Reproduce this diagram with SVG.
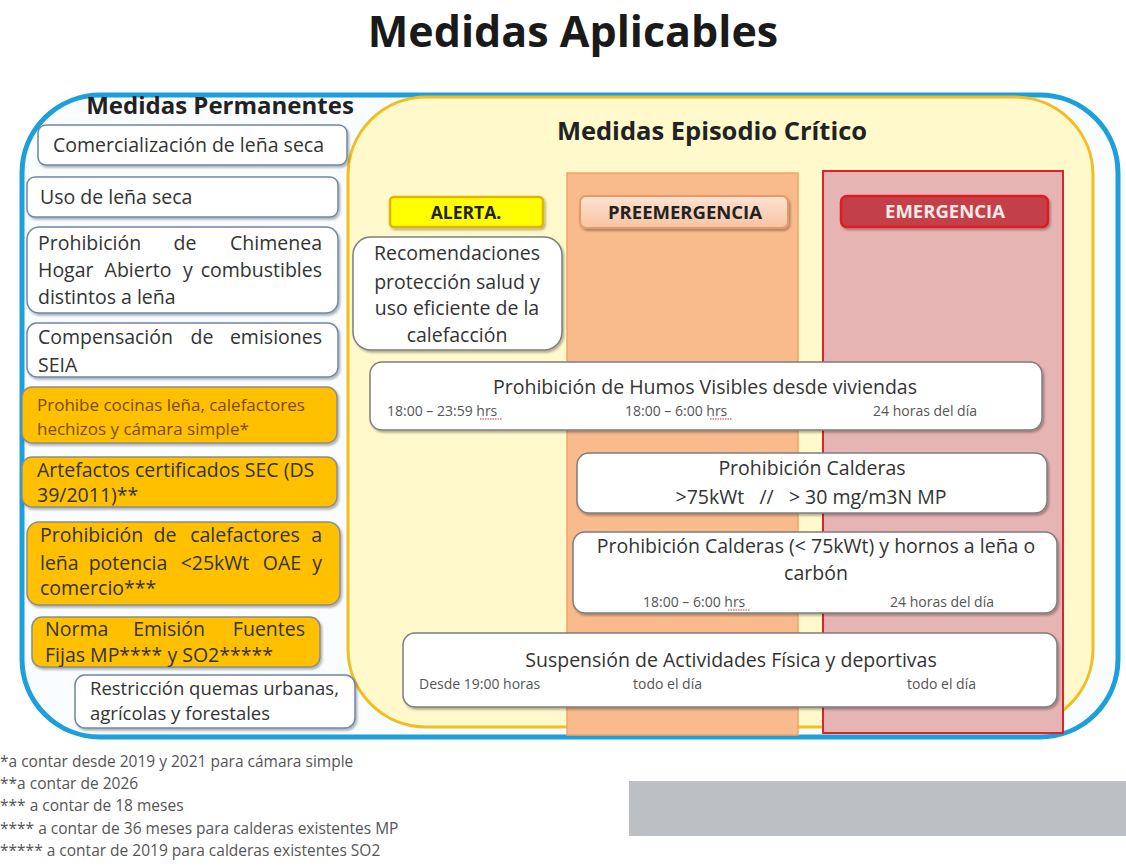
<svg xmlns="http://www.w3.org/2000/svg" width="1126" height="867" viewBox="0 0 1126 867">
<defs>
<style>
text{font-family:"Open Sans","Liberation Sans",sans-serif;fill:#333}
.h{font-weight:bold;fill:#222}
.t{font-size:19.5px}
.s{font-size:14px;fill:#555}
.o{font-size:17px;fill:#7a4a00}
.f{font-size:15.5px;fill:#555}
.wb{fill:#fff;stroke:#6d86ab;stroke-width:1.5}
.wr{fill:#fff;stroke:#7d7d7d;stroke-width:1.5}
.ob{fill:#ffc000;stroke:#8c8c8c;stroke-width:1.5}
.sq{stroke:#e03030;stroke-width:1.2;stroke-dasharray:1.5 1}
</style>
<filter id="sh" x="-5%" y="-10%" width="110%" height="130%">
<feDropShadow dx="1.5" dy="2" stdDeviation="1.2" flood-color="#000" flood-opacity="0.3"/>
</filter>
<linearGradient id="pg" x1="0" y1="0" x2="0" y2="1">
<stop offset="0" stop-color="#fde3d2"/><stop offset="1" stop-color="#f8c3a2"/>
</linearGradient>
</defs>
<rect width="1126" height="867" fill="#fff"/>
<text x="573" y="47" text-anchor="middle" class="h" style="font-size:43px;fill:#1a1a1a">Medidas Aplicables</text>

<g id="permanentes-frame">
<rect x="22" y="95" width="1096" height="642" rx="78" fill="#f9fdff" stroke="#1c9fda" stroke-width="5"/>
<text x="220" y="114" text-anchor="middle" class="h" style="font-size:24px">Medidas Permanentes</text>
</g>

<g id="episodio-frame">
<rect x="348" y="97" width="745" height="630" rx="78" fill="#fff9cc" stroke="#f2be1f" stroke-width="3"/>
<text x="712" y="140" text-anchor="middle" class="h" style="font-size:25.5px">Medidas Episodio Crítico</text>
</g>

<g id="col-preemergencia">
<rect x="567" y="173" width="231" height="562" fill="#f9bb8c" stroke="#f2a565" stroke-width="1.5"/>
</g>
<g id="col-emergencia">
<rect x="823" y="171" width="240" height="562" fill="#e7b4b4" stroke="#d8242a" stroke-width="2"/>
</g>

<g id="lbl-alerta">
<rect x="390" y="197" width="153" height="30" rx="4" fill="#ffff00" stroke="#e2b400" stroke-width="2.5" filter="url(#sh)"/>
<text x="466" y="219" text-anchor="middle" class="h" style="font-size:17.5px">ALERTA.</text>
</g>
<g id="lbl-preemergencia">
<rect x="580" y="196" width="208" height="32" rx="6" fill="url(#pg)" stroke="#e79a68" stroke-width="2" filter="url(#sh)"/>
<text x="685" y="219" text-anchor="middle" class="h" style="font-size:18.5px">PREEMERGENCIA</text>
</g>
<g id="lbl-emergencia">
<rect x="841" y="196" width="207" height="31" rx="6" fill="#c4404a" stroke="#e01a22" stroke-width="2.5" filter="url(#sh)"/>
<text x="945" y="218" text-anchor="middle" class="h" style="font-size:18.5px;fill:#fbe9e9">EMERGENCIA</text>
</g>

<g id="p1">
<rect x="38" y="125" width="309" height="40" rx="8" class="wb" filter="url(#sh)"/>
<text x="53" y="152" class="t">Comercialización de leña seca</text>
</g>
<g id="p2">
<rect x="27" y="177" width="311" height="40" rx="8" class="wb" filter="url(#sh)"/>
<text x="40" y="204" class="t">Uso de leña seca</text>
</g>
<g id="p3">
<rect x="27" y="227" width="311" height="86" rx="12" class="wb" filter="url(#sh)"/>
<text y="250" class="t"><tspan x="38">Prohibición</tspan><tspan x="185" text-anchor="middle">de</tspan><tspan x="322" text-anchor="end">Chimenea</tspan></text>
<text y="277" class="t"><tspan x="38">Hogar</tspan><tspan x="138" text-anchor="middle">Abierto</tspan><tspan x="188" text-anchor="middle">y</tspan><tspan x="322" text-anchor="end">combustibles</tspan></text>
<text x="38" y="304" class="t">distintos a leña</text>
</g>
<g id="p4">
<rect x="27" y="323" width="311" height="54" rx="10" class="wb" filter="url(#sh)"/>
<text y="344" class="t"><tspan x="38">Compensación</tspan><tspan x="202" text-anchor="middle">de</tspan><tspan x="322" text-anchor="end">emisiones</tspan></text>
<text x="38" y="372" class="t">SEIA</text>
</g>
<g id="p5">
<rect x="22" y="387" width="315" height="56" rx="10" class="ob" filter="url(#sh)"/>
<text x="37" y="411" class="o">Prohibe cocinas leña, calefactores</text>
<text x="37" y="435" class="o">hechizos y cámara simple*</text>
</g>
<g id="p6">
<rect x="22" y="457" width="315" height="50" rx="10" class="ob" filter="url(#sh)"/>
<text x="37" y="477" class="t">Artefactos certificados SEC (DS</text>
<text x="37" y="502" class="t">39/2011)**</text>
</g>
<g id="p7">
<rect x="27" y="522" width="313" height="83" rx="12" class="ob" filter="url(#sh)"/>
<text y="542" class="t"><tspan x="40">Prohibición</tspan><tspan x="165" text-anchor="middle">de</tspan><tspan x="245" text-anchor="middle">calefactores</tspan><tspan x="322" text-anchor="end">a</tspan></text>
<text y="570" class="t"><tspan x="40">leña</tspan><tspan x="128" text-anchor="middle">potencia</tspan><tspan x="215" text-anchor="middle">&lt;25kWt</tspan><tspan x="282" text-anchor="middle">OAE</tspan><tspan x="322" text-anchor="end">y</tspan></text>
<text x="40" y="595" class="t">comercio***</text>
</g>
<g id="p8">
<rect x="32" y="617" width="288" height="50" rx="10" class="ob" filter="url(#sh)"/>
<text y="636" class="t"><tspan x="45">Norma</tspan><tspan x="169" text-anchor="middle">Emisión</tspan><tspan x="305" text-anchor="end">Fuentes</tspan></text>
<text x="45" y="662" class="t">Fijas MP**** y SO2*****</text>
</g>
<g id="p9">
<rect x="75" y="675" width="280" height="53" rx="10" class="wb" filter="url(#sh)"/>
<text x="90" y="695" class="t" style="font-size:18.5px">Restricción quemas urbanas,</text>
<text x="90" y="720" class="t" style="font-size:18.5px">agrícolas y forestales</text>
</g>

<g id="e-recomendaciones">
<rect x="353" y="237" width="209" height="113" rx="18" class="wr" filter="url(#sh)"/>
<text x="457" y="260" text-anchor="middle" class="t">Recomendaciones</text>
<text x="457" y="289" text-anchor="middle" class="t">protección salud y</text>
<text x="457" y="315" text-anchor="middle" class="t">uso eficiente de la</text>
<text x="457" y="342" text-anchor="middle" class="t">calefacción</text>
</g>
<g id="e-humos">
<rect x="370" y="362" width="672" height="68" rx="12" class="wr" filter="url(#sh)"/>
<text x="705" y="394" text-anchor="middle" class="t">Prohibición de Humos Visibles desde viviendas</text>
<text x="387" y="416" class="s">18:00 – 23:59 hrs</text>
<text x="625" y="416" class="s">18:00 – 6:00 hrs</text>
<text x="873" y="416" class="s">24 horas del día</text>
<line x1="480" y1="419" x2="502" y2="419" class="sq"/>
<line x1="710" y1="419" x2="732" y2="419" class="sq"/>
</g>
<g id="e-calderas-mayor">
<rect x="577" y="453" width="470" height="60" rx="12" class="wr" filter="url(#sh)"/>
<text x="812" y="475" text-anchor="middle" class="t">Prohibición Calderas</text>
<text x="811" y="504" text-anchor="middle" class="t" xml:space="preserve">&gt;75kWt   //   &gt; 30 mg/m3N MP</text>
</g>
<g id="e-calderas-menor">
<rect x="573" y="532" width="484" height="81" rx="12" class="wr" filter="url(#sh)"/>
<text x="816" y="553" text-anchor="middle" class="t">Prohibición Calderas (&lt; 75kWt) y hornos a leña o</text>
<text x="816" y="580" text-anchor="middle" class="t">carbón</text>
<text x="643" y="607" class="s">18:00 – 6:00 hrs</text>
<text x="890" y="607" class="s">24 horas del día</text>
<line x1="728" y1="610" x2="750" y2="610" class="sq"/>
</g>
<g id="e-suspension">
<rect x="403" y="633" width="654" height="74" rx="12" class="wr" filter="url(#sh)"/>
<text x="731" y="667" text-anchor="middle" class="t">Suspensión de Actividades Física y deportivas</text>
<text x="419" y="689" class="s">Desde 19:00 horas</text>
<text x="633" y="689" class="s">todo el día</text>
<text x="907" y="689" class="s">todo el día</text>
</g>

<g id="connectors"></g>

<g id="footnotes">
<text x="0" y="767" class="f">*a contar desde 2019 y 2021  para cámara simple</text>
<text x="0" y="789" class="f">**a contar de 2026</text>
<text x="0" y="811" class="f">*** a contar de 18 meses</text>
<text x="0" y="834" class="f">**** a contar de 36 meses para calderas existentes MP</text>
<text x="0" y="856" class="f">***** a contar de 2019 para calderas existentes SO2</text>
</g>
<rect id="gray-block" x="629" y="781" width="497" height="55" fill="#bcbfc4"/>
</svg>
